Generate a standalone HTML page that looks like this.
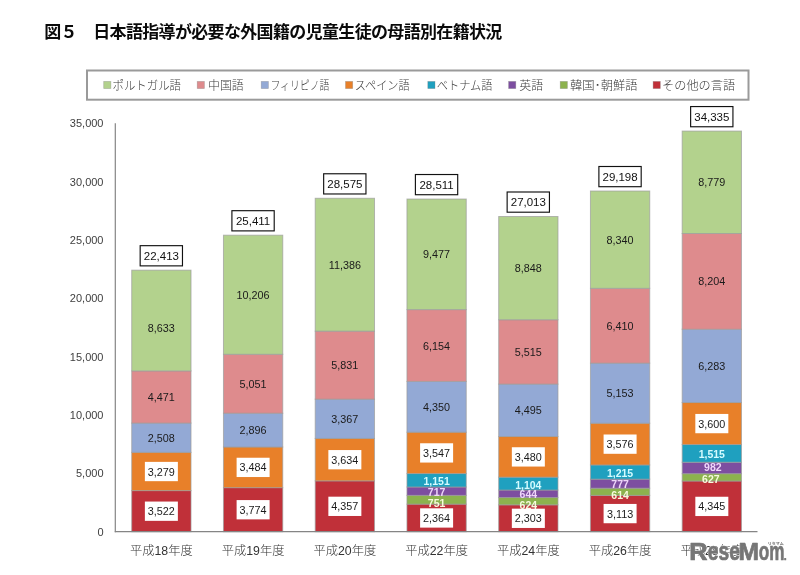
<!DOCTYPE html>
<html lang="ja">
<head>
<meta charset="utf-8">
<title>図５　日本語指導が必要な外国籍の児童生徒の母語別在籍状況</title>
<style>
html,body{margin:0;padding:0;background:#fff;}
body{width:800px;height:575px;overflow:hidden;}
svg{display:block;}
text{font-family:"Liberation Sans","Noto Sans CJK JP",sans-serif;}
.title{font-weight:bold;font-size:17px;fill:#0a0a0a;letter-spacing:-0.66px;}
.leg{font-size:12px;fill:#3a3a3a;font-weight:300;}
.yl{font-size:11px;fill:#404040;text-anchor:end;}
.xl{font-size:12.3px;fill:#333;font-weight:300;text-anchor:middle;}
.dl{font-size:10.8px;fill:#1a1a1a;text-anchor:middle;}
.tl{font-size:11.5px;fill:#111;text-anchor:middle;}
.sm{font-size:10.5px;font-weight:bold;text-anchor:middle;}
</style>
</head>
<body>
<svg width="800" height="575" viewBox="0 0 800 575">
<rect x="0" y="0" width="800" height="575" fill="#ffffff"/>
<text class="title" x="44.2" y="37.8">図５　日本語指導が必要な外国籍の児童生徒の母語別在籍状況</text>
<rect x="87" y="70.5" width="661.5" height="29.2" fill="#fff" stroke="#9a9a9a" stroke-width="2"/>
<rect x="103.7" y="81.4" width="7.2" height="7.2" fill="#b3d28d" stroke="#808080" stroke-opacity="0.45" stroke-width="0.7"/><text class="leg" x="112.5" y="90.0" textLength="68.5" lengthAdjust="spacingAndGlyphs">ポルトガル語</text>
<rect x="197.2" y="81.4" width="7.2" height="7.2" fill="#de8b8d" stroke="#808080" stroke-opacity="0.45" stroke-width="0.7"/><text class="leg" x="208" y="90.0" textLength="35.8" lengthAdjust="spacingAndGlyphs">中国語</text>
<rect x="261.2" y="81.4" width="7.2" height="7.2" fill="#93a9d5" stroke="#808080" stroke-opacity="0.45" stroke-width="0.7"/><text class="leg" x="270.4" y="90.0" textLength="59" lengthAdjust="spacingAndGlyphs">フィリピノ語</text>
<rect x="345.5" y="81.4" width="7.2" height="7.2" fill="#e88029" stroke="#808080" stroke-opacity="0.45" stroke-width="0.7"/><text class="leg" x="354.7" y="90.0" textLength="55" lengthAdjust="spacingAndGlyphs">スペイン語</text>
<rect x="427.8" y="81.4" width="7.2" height="7.2" fill="#1fa0bf" stroke="#808080" stroke-opacity="0.45" stroke-width="0.7"/><text class="leg" x="436.8" y="90.0" textLength="55.6" lengthAdjust="spacingAndGlyphs">ベトナム語</text>
<rect x="508.59999999999997" y="81.4" width="7.2" height="7.2" fill="#7d4ea0" stroke="#808080" stroke-opacity="0.45" stroke-width="0.7"/><text class="leg" x="519.2" y="90.0" textLength="24" lengthAdjust="spacingAndGlyphs">英語</text>
<rect x="560.2" y="81.4" width="7.2" height="7.2" fill="#8cb24e" stroke="#808080" stroke-opacity="0.45" stroke-width="0.7"/><text class="leg" x="569.9" y="90.0" textLength="67.8" lengthAdjust="spacingAndGlyphs">韓国･朝鮮語</text>
<rect x="653.1" y="81.4" width="7.2" height="7.2" fill="#c03039" stroke="#808080" stroke-opacity="0.45" stroke-width="0.7"/><text class="leg" x="662" y="90.0" textLength="73.2" lengthAdjust="spacingAndGlyphs">その他の言語</text>
<text class="yl" x="103.5" y="535.7">0</text>
<text class="yl" x="103.5" y="477.4">5,000</text>
<text class="yl" x="103.5" y="419.0">10,000</text>
<text class="yl" x="103.5" y="360.7">15,000</text>
<text class="yl" x="103.5" y="302.3">20,000</text>
<text class="yl" x="103.5" y="244.0">25,000</text>
<text class="yl" x="103.5" y="185.6">30,000</text>
<text class="yl" x="103.5" y="127.3">35,000</text>
<rect x="131.72" y="490.60" width="59.3" height="41.10" fill="#c03039" stroke="#9c9c9c" stroke-opacity="0.7" stroke-width="1"/>
<rect x="131.72" y="452.34" width="59.3" height="38.26" fill="#e88029" stroke="#9c9c9c" stroke-opacity="0.7" stroke-width="1"/>
<rect x="131.72" y="423.08" width="59.3" height="29.26" fill="#93a9d5" stroke="#9c9c9c" stroke-opacity="0.7" stroke-width="1"/>
<rect x="131.72" y="370.91" width="59.3" height="52.17" fill="#de8b8d" stroke="#9c9c9c" stroke-opacity="0.7" stroke-width="1"/>
<rect x="131.72" y="270.17" width="59.3" height="100.73" fill="#b3d28d" stroke="#9c9c9c" stroke-opacity="0.7" stroke-width="1"/>
<rect x="223.46" y="487.66" width="59.3" height="44.04" fill="#c03039" stroke="#9c9c9c" stroke-opacity="0.7" stroke-width="1"/>
<rect x="223.46" y="447.01" width="59.3" height="40.65" fill="#e88029" stroke="#9c9c9c" stroke-opacity="0.7" stroke-width="1"/>
<rect x="223.46" y="413.22" width="59.3" height="33.79" fill="#93a9d5" stroke="#9c9c9c" stroke-opacity="0.7" stroke-width="1"/>
<rect x="223.46" y="354.28" width="59.3" height="58.94" fill="#de8b8d" stroke="#9c9c9c" stroke-opacity="0.7" stroke-width="1"/>
<rect x="223.46" y="235.19" width="59.3" height="119.09" fill="#b3d28d" stroke="#9c9c9c" stroke-opacity="0.7" stroke-width="1"/>
<rect x="315.21" y="480.86" width="59.3" height="50.84" fill="#c03039" stroke="#9c9c9c" stroke-opacity="0.7" stroke-width="1"/>
<rect x="315.21" y="438.46" width="59.3" height="42.40" fill="#e88029" stroke="#9c9c9c" stroke-opacity="0.7" stroke-width="1"/>
<rect x="315.21" y="399.17" width="59.3" height="39.29" fill="#93a9d5" stroke="#9c9c9c" stroke-opacity="0.7" stroke-width="1"/>
<rect x="315.21" y="331.13" width="59.3" height="68.04" fill="#de8b8d" stroke="#9c9c9c" stroke-opacity="0.7" stroke-width="1"/>
<rect x="315.21" y="198.27" width="59.3" height="132.86" fill="#b3d28d" stroke="#9c9c9c" stroke-opacity="0.7" stroke-width="1"/>
<rect x="406.95" y="504.12" width="59.3" height="27.58" fill="#c03039" stroke="#9c9c9c" stroke-opacity="0.7" stroke-width="1"/>
<rect x="406.95" y="495.35" width="59.3" height="8.76" fill="#8cb24e" stroke="#9c9c9c" stroke-opacity="0.7" stroke-width="1"/>
<rect x="406.95" y="486.99" width="59.3" height="8.37" fill="#7d4ea0" stroke="#9c9c9c" stroke-opacity="0.7" stroke-width="1"/>
<rect x="406.95" y="473.56" width="59.3" height="13.43" fill="#1fa0bf" stroke="#9c9c9c" stroke-opacity="0.7" stroke-width="1"/>
<rect x="406.95" y="432.17" width="59.3" height="41.39" fill="#e88029" stroke="#9c9c9c" stroke-opacity="0.7" stroke-width="1"/>
<rect x="406.95" y="381.41" width="59.3" height="50.76" fill="#93a9d5" stroke="#9c9c9c" stroke-opacity="0.7" stroke-width="1"/>
<rect x="406.95" y="309.60" width="59.3" height="71.81" fill="#de8b8d" stroke="#9c9c9c" stroke-opacity="0.7" stroke-width="1"/>
<rect x="406.95" y="199.02" width="59.3" height="110.58" fill="#b3d28d" stroke="#9c9c9c" stroke-opacity="0.7" stroke-width="1"/>
<rect x="498.69" y="504.83" width="59.3" height="26.87" fill="#c03039" stroke="#9c9c9c" stroke-opacity="0.7" stroke-width="1"/>
<rect x="498.69" y="497.55" width="59.3" height="7.28" fill="#8cb24e" stroke="#9c9c9c" stroke-opacity="0.7" stroke-width="1"/>
<rect x="498.69" y="490.03" width="59.3" height="7.51" fill="#7d4ea0" stroke="#9c9c9c" stroke-opacity="0.7" stroke-width="1"/>
<rect x="498.69" y="477.15" width="59.3" height="12.88" fill="#1fa0bf" stroke="#9c9c9c" stroke-opacity="0.7" stroke-width="1"/>
<rect x="498.69" y="436.54" width="59.3" height="40.61" fill="#e88029" stroke="#9c9c9c" stroke-opacity="0.7" stroke-width="1"/>
<rect x="498.69" y="384.09" width="59.3" height="52.45" fill="#93a9d5" stroke="#9c9c9c" stroke-opacity="0.7" stroke-width="1"/>
<rect x="498.69" y="319.74" width="59.3" height="64.35" fill="#de8b8d" stroke="#9c9c9c" stroke-opacity="0.7" stroke-width="1"/>
<rect x="498.69" y="216.50" width="59.3" height="103.24" fill="#b3d28d" stroke="#9c9c9c" stroke-opacity="0.7" stroke-width="1"/>
<rect x="590.44" y="495.38" width="59.3" height="36.32" fill="#c03039" stroke="#9c9c9c" stroke-opacity="0.7" stroke-width="1"/>
<rect x="590.44" y="488.21" width="59.3" height="7.16" fill="#8cb24e" stroke="#9c9c9c" stroke-opacity="0.7" stroke-width="1"/>
<rect x="590.44" y="479.14" width="59.3" height="9.07" fill="#7d4ea0" stroke="#9c9c9c" stroke-opacity="0.7" stroke-width="1"/>
<rect x="590.44" y="464.97" width="59.3" height="14.18" fill="#1fa0bf" stroke="#9c9c9c" stroke-opacity="0.7" stroke-width="1"/>
<rect x="590.44" y="423.24" width="59.3" height="41.73" fill="#e88029" stroke="#9c9c9c" stroke-opacity="0.7" stroke-width="1"/>
<rect x="590.44" y="363.11" width="59.3" height="60.13" fill="#93a9d5" stroke="#9c9c9c" stroke-opacity="0.7" stroke-width="1"/>
<rect x="590.44" y="288.32" width="59.3" height="74.80" fill="#de8b8d" stroke="#9c9c9c" stroke-opacity="0.7" stroke-width="1"/>
<rect x="590.44" y="191.00" width="59.3" height="97.32" fill="#b3d28d" stroke="#9c9c9c" stroke-opacity="0.7" stroke-width="1"/>
<rect x="682.18" y="481.00" width="59.3" height="50.70" fill="#c03039" stroke="#9c9c9c" stroke-opacity="0.7" stroke-width="1"/>
<rect x="682.18" y="473.68" width="59.3" height="7.32" fill="#8cb24e" stroke="#9c9c9c" stroke-opacity="0.7" stroke-width="1"/>
<rect x="682.18" y="462.23" width="59.3" height="11.46" fill="#7d4ea0" stroke="#9c9c9c" stroke-opacity="0.7" stroke-width="1"/>
<rect x="682.18" y="444.55" width="59.3" height="17.68" fill="#1fa0bf" stroke="#9c9c9c" stroke-opacity="0.7" stroke-width="1"/>
<rect x="682.18" y="402.54" width="59.3" height="42.01" fill="#e88029" stroke="#9c9c9c" stroke-opacity="0.7" stroke-width="1"/>
<rect x="682.18" y="329.23" width="59.3" height="73.31" fill="#93a9d5" stroke="#9c9c9c" stroke-opacity="0.7" stroke-width="1"/>
<rect x="682.18" y="233.50" width="59.3" height="95.73" fill="#de8b8d" stroke="#9c9c9c" stroke-opacity="0.7" stroke-width="1"/>
<rect x="682.18" y="131.06" width="59.3" height="102.44" fill="#b3d28d" stroke="#9c9c9c" stroke-opacity="0.7" stroke-width="1"/>
<text class="sm" x="436.60" y="507.18" fill="#f6fbdc">751</text>
<text class="sm" x="436.60" y="495.62" fill="#efd6fa">717</text>
<text class="sm" x="436.60" y="484.72" fill="#d4fbff">1,151</text>
<text class="sm" x="528.34" y="508.84" fill="#f6fbdc">624</text>
<text class="sm" x="528.34" y="498.14" fill="#efd6fa">644</text>
<text class="sm" x="528.34" y="489.04" fill="#d4fbff">1,104</text>
<text class="sm" x="620.09" y="499.34" fill="#f6fbdc">614</text>
<text class="sm" x="620.09" y="488.03" fill="#efd6fa">777</text>
<text class="sm" x="620.09" y="477.01" fill="#d4fbff">1,215</text>
<text class="sm" x="710.83" y="483.39" fill="#f6fbdc">627</text>
<text class="sm" x="712.83" y="470.60" fill="#efd6fa">982</text>
<text class="sm" x="711.83" y="457.74" fill="#d4fbff">1,515</text>
<rect x="144.87" y="501.55" width="33" height="19.3" fill="#fff"/><text class="dl" x="161.37" y="515.25">3,522</text>
<rect x="144.87" y="461.87" width="33" height="19.3" fill="#fff"/><text class="dl" x="161.37" y="475.57">3,279</text>
<text class="dl" x="161.37" y="441.81">2,508</text>
<text class="dl" x="161.37" y="401.09">4,471</text>
<text class="dl" x="161.37" y="331.94">8,633</text>
<rect x="140.17" y="245.67" width="42.3" height="20.2" fill="#fff" stroke="#111" stroke-width="1.15"/><text class="tl" x="161.37" y="259.97">22,413</text>
<text class="xl" x="161.37" y="555">平成18年度</text>
<rect x="236.61" y="500.08" width="33" height="19.3" fill="#fff"/><text class="dl" x="253.11" y="513.78">3,774</text>
<rect x="236.61" y="457.74" width="33" height="19.3" fill="#fff"/><text class="dl" x="253.11" y="471.44">3,484</text>
<text class="dl" x="253.11" y="434.21">2,896</text>
<text class="dl" x="253.11" y="387.85">5,051</text>
<text class="dl" x="253.11" y="298.83">10,206</text>
<rect x="231.91" y="210.69" width="42.3" height="20.2" fill="#fff" stroke="#111" stroke-width="1.15"/><text class="tl" x="253.11" y="224.99">25,411</text>
<text class="xl" x="253.11" y="555">平成19年度</text>
<rect x="328.36" y="496.68" width="33" height="19.3" fill="#fff"/><text class="dl" x="344.86" y="510.38">4,357</text>
<rect x="328.36" y="450.06" width="33" height="19.3" fill="#fff"/><text class="dl" x="344.86" y="463.76">3,634</text>
<text class="dl" x="344.86" y="422.91">3,367</text>
<text class="dl" x="344.86" y="369.25">5,831</text>
<text class="dl" x="344.86" y="268.80">11,386</text>
<rect x="323.66" y="173.77" width="42.3" height="20.2" fill="#fff" stroke="#111" stroke-width="1.15"/><text class="tl" x="344.86" y="188.07">28,575</text>
<text class="xl" x="344.86" y="555">平成20年度</text>
<rect x="420.10" y="508.31" width="33" height="19.3" fill="#fff"/><text class="dl" x="436.60" y="522.01">2,364</text>
<rect x="420.10" y="443.26" width="33" height="19.3" fill="#fff"/><text class="dl" x="436.60" y="456.96">3,547</text>
<text class="dl" x="436.60" y="410.89">4,350</text>
<text class="dl" x="436.60" y="349.60">6,154</text>
<text class="dl" x="436.60" y="258.41">9,477</text>
<rect x="415.40" y="174.52" width="42.3" height="20.2" fill="#fff" stroke="#111" stroke-width="1.15"/><text class="tl" x="436.60" y="188.82">28,511</text>
<text class="xl" x="436.60" y="555">平成22年度</text>
<rect x="511.84" y="508.66" width="33" height="19.3" fill="#fff"/><text class="dl" x="528.34" y="522.36">2,303</text>
<rect x="511.84" y="447.25" width="33" height="19.3" fill="#fff"/><text class="dl" x="528.34" y="460.95">3,480</text>
<text class="dl" x="528.34" y="414.42">4,495</text>
<text class="dl" x="528.34" y="356.02">5,515</text>
<text class="dl" x="528.34" y="272.22">8,848</text>
<rect x="507.14" y="192.00" width="42.3" height="20.2" fill="#fff" stroke="#111" stroke-width="1.15"/><text class="tl" x="528.34" y="206.30">27,013</text>
<text class="xl" x="528.34" y="555">平成24年度</text>
<rect x="603.59" y="503.94" width="33" height="19.3" fill="#fff"/><text class="dl" x="620.09" y="517.64">3,113</text>
<rect x="603.59" y="434.50" width="33" height="19.3" fill="#fff"/><text class="dl" x="620.09" y="448.20">3,576</text>
<text class="dl" x="620.09" y="397.28">5,153</text>
<text class="dl" x="620.09" y="329.81">6,410</text>
<text class="dl" x="620.09" y="243.76">8,340</text>
<rect x="598.89" y="166.50" width="42.3" height="20.2" fill="#fff" stroke="#111" stroke-width="1.15"/><text class="tl" x="620.09" y="180.80">29,198</text>
<text class="xl" x="620.09" y="555">平成26年度</text>
<rect x="695.33" y="496.75" width="33" height="19.3" fill="#fff"/><text class="dl" x="711.83" y="510.45">4,345</text>
<rect x="695.33" y="413.94" width="33" height="19.3" fill="#fff"/><text class="dl" x="711.83" y="427.64">3,600</text>
<text class="dl" x="711.83" y="369.98">6,283</text>
<text class="dl" x="711.83" y="285.46">8,204</text>
<text class="dl" x="711.83" y="186.38">8,779</text>
<rect x="690.63" y="106.56" width="42.3" height="20.2" fill="#fff" stroke="#111" stroke-width="1.15"/><text class="tl" x="711.83" y="120.86">34,335</text>
<text class="xl" x="711.83" y="555">平成28年度</text>
<line x1="115.3" y1="123.3" x2="115.3" y2="532.2" stroke="#858585" stroke-width="1.2"/>
<line x1="114.8" y1="531.7" x2="757.5" y2="531.7" stroke="#858585" stroke-width="1.2"/>
<g><text transform="translate(689.2,560.3) scale(1.1,1)" font-size="23.0" font-weight="bold" fill="#ffffff" stroke="#ffffff" stroke-opacity="0.5" stroke-width="2.0" stroke-linejoin="round">R</text><text transform="translate(707.8,560.3) scale(0.725,1)" font-size="26.6" font-weight="bold" fill="#ffffff" stroke="#ffffff" stroke-opacity="0.5" stroke-width="2.0" stroke-linejoin="round">ese</text><text transform="translate(738.4,560.3) scale(1.07,1)" font-size="23.0" font-weight="bold" fill="#ffffff" stroke="#ffffff" stroke-opacity="0.5" stroke-width="2.0" stroke-linejoin="round">M</text><text transform="translate(758.8,560.3) scale(0.645,1)" font-size="26.6" font-weight="bold" fill="#ffffff" stroke="#ffffff" stroke-opacity="0.5" stroke-width="2.0" stroke-linejoin="round">om</text><text transform="translate(784.0,560.3) scale(0.9,1)" font-size="10" font-weight="bold" fill="#ffffff" stroke="#ffffff" stroke-opacity="0.5" stroke-width="2.0" stroke-linejoin="round">.</text></g>
<g><text transform="translate(689.2,560.3) scale(1.1,1)" font-size="23.0" font-weight="bold" fill="#767676" stroke="#767676" stroke-opacity="1" stroke-width="0.7" stroke-linejoin="round">R</text><text transform="translate(707.8,560.3) scale(0.725,1)" font-size="26.6" font-weight="bold" fill="#767676" stroke="#767676" stroke-opacity="1" stroke-width="0.7" stroke-linejoin="round">ese</text><text transform="translate(738.4,560.3) scale(1.07,1)" font-size="23.0" font-weight="bold" fill="#767676" stroke="#767676" stroke-opacity="1" stroke-width="0.7" stroke-linejoin="round">M</text><text transform="translate(758.8,560.3) scale(0.645,1)" font-size="26.6" font-weight="bold" fill="#767676" stroke="#767676" stroke-opacity="1" stroke-width="0.7" stroke-linejoin="round">om</text><text transform="translate(784.0,560.3) scale(0.9,1)" font-size="10" font-weight="bold" fill="#767676" stroke="#767676" stroke-opacity="1" stroke-width="0.7" stroke-linejoin="round">.</text></g>
<text x="767.8" y="545.3" font-size="3.8" font-weight="bold" fill="#6e6e6e" textLength="16" lengthAdjust="spacingAndGlyphs">リセマム</text>
</svg>
</body>
</html>
